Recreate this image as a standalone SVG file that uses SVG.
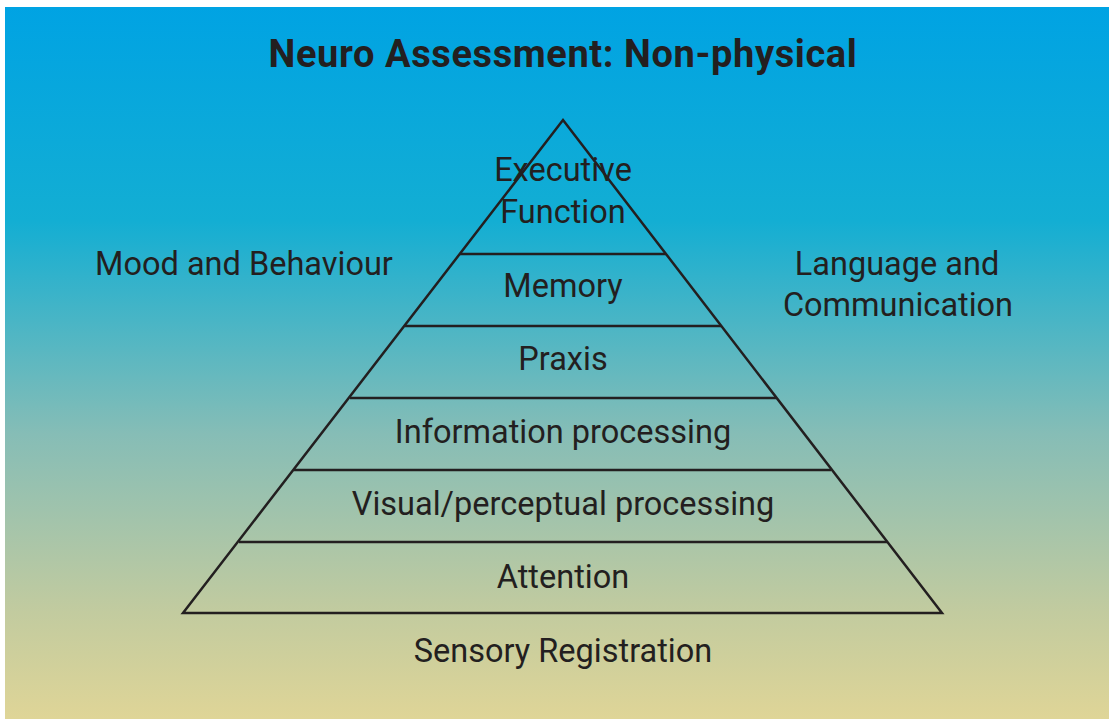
<svg xmlns="http://www.w3.org/2000/svg" width="1109" height="719" viewBox="0 0 1109 719">
<defs>
<linearGradient id="bg" x1="0" y1="0" x2="0" y2="1">
<stop offset="0" stop-color="#00a3e3"/>
<stop offset="0.3" stop-color="#13aed3"/>
<stop offset="0.6" stop-color="#86bdb6"/>
<stop offset="0.85" stop-color="#c2cb9f"/>
<stop offset="1" stop-color="#dfd597"/>
</linearGradient>
<style>
.t{font-family:Roboto,"Liberation Sans",sans-serif;font-size:32.5px;fill:#231f20;text-anchor:middle}
.title{font-family:Roboto,"Liberation Sans",sans-serif;font-size:38px;font-weight:bold;fill:#231f20;text-anchor:middle;letter-spacing:0.6px}
.ln{stroke:#231f20;stroke-width:2.5;fill:none}
</style>
</defs>
<rect x="0" y="0" width="1109" height="719" fill="#ffffff"/>
<rect x="5" y="7" width="1104" height="712" fill="url(#bg)"/>
<text class="title" x="563" y="67">Neuro Assessment: Non-physical</text>
<g id="pyramid">
<polygon class="ln" points="563,120 942,613 183,613" stroke-linejoin="miter"/>
</g>
<g id="connectors">
<line class="ln" x1="460" y1="254" x2="666" y2="254"/>
<line class="ln" x1="405" y1="326" x2="721" y2="326"/>
<line class="ln" x1="350" y1="398" x2="776" y2="398"/>
<line class="ln" x1="294" y1="470" x2="831" y2="470"/>
<line class="ln" x1="239" y1="542" x2="887" y2="542"/>
</g>
<g id="executive"><text class="t" x="563" y="181">Executive</text><text class="t" x="563" y="223">Function</text></g>
<g id="memory"><text class="t" x="563" y="297">Memory</text></g>
<g id="praxis"><text class="t" x="563" y="370">Praxis</text></g>
<g id="info"><text class="t" x="563" y="443">Information processing</text></g>
<g id="visual"><text class="t" x="563" y="515">Visual/perceptual processing</text></g>
<g id="attention"><text class="t" x="563" y="588">Attention</text></g>
<g id="sensory"><text class="t" x="563" y="662">Sensory Registration</text></g>
<g id="mood"><text class="t" x="244" y="275">Mood and Behaviour</text></g>
<g id="language"><text class="t" x="897" y="275">Language and</text><text class="t" x="898" y="316">Communication</text></g>
</svg>
